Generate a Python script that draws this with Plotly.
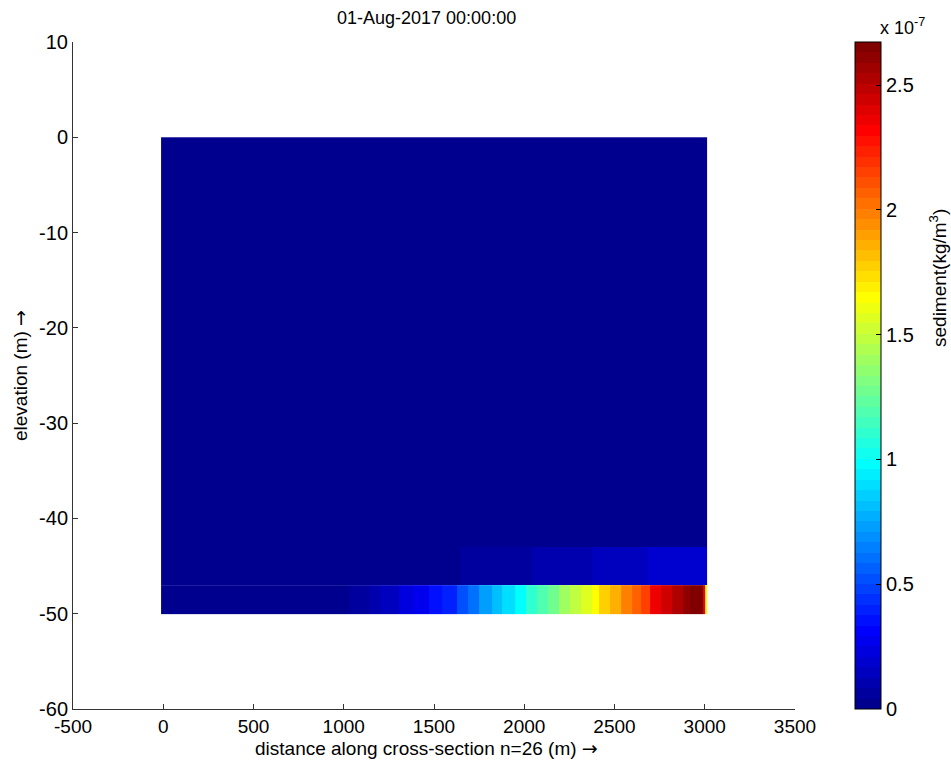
import plotly.graph_objects as go

# ---- data (sediment concentration, units of 1e-7 kg/m3) ----
top_x_edges = [-12, 3015]
top_y_edges = [-43, 0]
top_values = [0.0]

mid_x_edges = [-12, 1647, 2041, 2373, 2678, 3015]
mid_y_edges = [-47, -43]
mid_values = [0.0, 0.06, 0.10, 0.14, 0.18]

bot_x_edges = [-12, 1031, 1142, 1203, 1304, 1385, 1475, 1546, 1627, 1688, 1748,
               1819, 1879, 1950, 2011, 2071, 2132, 2193, 2253, 2314, 2375,
               2415, 2475, 2536, 2597, 2647, 2698, 2758, 2819, 2880, 2920,
               2991, 3001, 3015]
bot_y_edges = [-50, -47]
bot_values = [0.0, 0.05, 0.11, 0.16, 0.22, 0.28, 0.34, 0.41, 0.54, 0.62, 0.73,
              0.81, 0.88, 1.00, 1.11, 1.21, 1.29, 1.40, 1.47, 1.58, 1.67,
              1.76, 1.84, 1.97, 2.05, 2.15, 2.34, 2.43, 2.54, 2.61, 2.66,
              2.34, 1.67]

c_max = 2.673
cbar_ticks = [0, 0.5, 1, 1.5, 2, 2.5]
cbar_ticktext = ["0", "0.5", "1", "1.5", "2", "2.5"]
x_ticks = [-500, 0, 500, 1000, 1500, 2000, 2500, 3000, 3500]
y_ticks = [-60, -50, -40, -30, -20, -10, 0, 10]

arrow = "<span style=\"font-family:'DejaVu Sans';color:#000000\">\u2192</span>"
title_text = "01-Aug-2017 00:00:00"
x_label = "distance along cross-section n=26 (m) " + arrow
y_label = "elevation (m) " + arrow
cbar_label = "sediment(kg/m<sup>3</sup>)"

# ---- MATLAB jet(64) discrete colorscale ----
def matlab_jet(m=64):
    n = -(-m // 4)
    u = [i / n for i in range(1, n + 1)] + [1.0] * (n - 1) + [i / n for i in range(n, 0, -1)]
    g0 = -(-n // 2) - (1 if m % 4 == 1 else 0)
    cols = [[0.0, 0.0, 0.0] for _ in range(m)]
    for k, val in enumerate(u, start=1):
        gi = g0 + k
        ri = gi + n
        bi = gi - n
        if 1 <= gi <= m:
            cols[gi - 1][1] = val
        if 1 <= ri <= m:
            cols[ri - 1][0] = val
        if 1 <= bi <= m:
            cols[bi - 1][2] = val
    return cols

jet = matlab_jet(64)
colorscale = []
for i, c in enumerate(jet):
    rgb = "rgb(%d,%d,%d)" % tuple(round(v * 255) for v in c)
    colorscale.append([i / 64, rgb])
    colorscale.append([(i + 1) / 64, rgb])

fig = go.Figure()
for xe, ye, vals in [(top_x_edges, top_y_edges, top_values),
                     (mid_x_edges, mid_y_edges, mid_values),
                     (bot_x_edges, bot_y_edges, bot_values)]:
    fig.add_trace(go.Heatmap(x=xe, y=ye, z=[vals], coloraxis="coloraxis",
                             zsmooth=False, hoverinfo="skip"))

font_family = "Liberation Sans, DejaVu Sans, Arial, sans-serif"
axis_col = "#333333"

L, R, T, B = 73, 795, 42, 709
W, H = 951, 764
pw, ph = R - L, B - T

def px_x(p):
    return (p - L) / pw

def px_y(p):
    return (B - p) / ph

fig.update_layout(
    width=W, height=H,
    margin=dict(l=L, r=W - R, t=T, b=H - B, pad=0),
    paper_bgcolor="white", plot_bgcolor="white",
    font=dict(family=font_family, size=18, color="black"),
    showlegend=False,
    coloraxis=dict(
        colorscale=colorscale, cmin=0, cmax=c_max,
        colorbar=dict(
            x=px_x(855), xanchor="left", xpad=0, ypad=0,
            y=0, yanchor="bottom", len=1, lenmode="fraction",
            thickness=26, thicknessmode="pixels",
            outlinecolor="black", outlinewidth=1,
            tickvals=cbar_ticks, ticktext=cbar_ticktext,
            ticks="inside", ticklen=5, tickcolor="black",
            tickfont=dict(family=font_family, size=20, color="black"),
        ),
    ),
    xaxis=dict(
        range=[-500, 3500], tickvals=x_ticks, ticktext=[str(v) for v in x_ticks],
        ticks="inside", ticklen=5, tickcolor=axis_col,
        showline=True, linecolor=axis_col, linewidth=1, mirror=False,
        showgrid=False, zeroline=False,
        tickfont=dict(family=font_family, size=19, color="black"),
    ),
    yaxis=dict(
        range=[-60, 10], tickvals=y_ticks, ticktext=[str(v) for v in y_ticks],
        ticks="inside", ticklen=5, tickcolor=axis_col,
        showline=True, linecolor=axis_col, linewidth=1, mirror=False,
        showgrid=False, zeroline=False,
        tickfont=dict(family=font_family, size=20, color="black"),
    ),
    annotations=[
        dict(text=title_text, xref="paper", yref="paper", x=px_x(426), y=px_y(18),
             showarrow=False, xanchor="center", yanchor="middle",
             font=dict(family=font_family, size=18, color="black")),
        dict(text=x_label, xref="paper", yref="paper", x=px_x(426), y=px_y(748),
             showarrow=False, xanchor="center", yanchor="middle",
             font=dict(family=font_family, size=19, color="black")),
        dict(text=y_label, xref="paper", yref="paper", x=px_x(20), y=px_y(375),
             showarrow=False, xanchor="center", yanchor="middle", textangle=-90,
             font=dict(family=font_family, size=19, color="black")),
        dict(text=cbar_label, xref="paper", yref="paper", x=px_x(938), y=px_y(278),
             showarrow=False, xanchor="center", yanchor="middle", textangle=-90,
             font=dict(family=font_family, size=19, color="black")),
        dict(text="x 10<sup>-7</sup>", xref="paper", yref="paper", x=px_x(903), y=px_y(26),
             showarrow=False, xanchor="center", yanchor="middle",
             font=dict(family=font_family, size=18, color="black")),
    ],
)

fig.write_html("out.html")
